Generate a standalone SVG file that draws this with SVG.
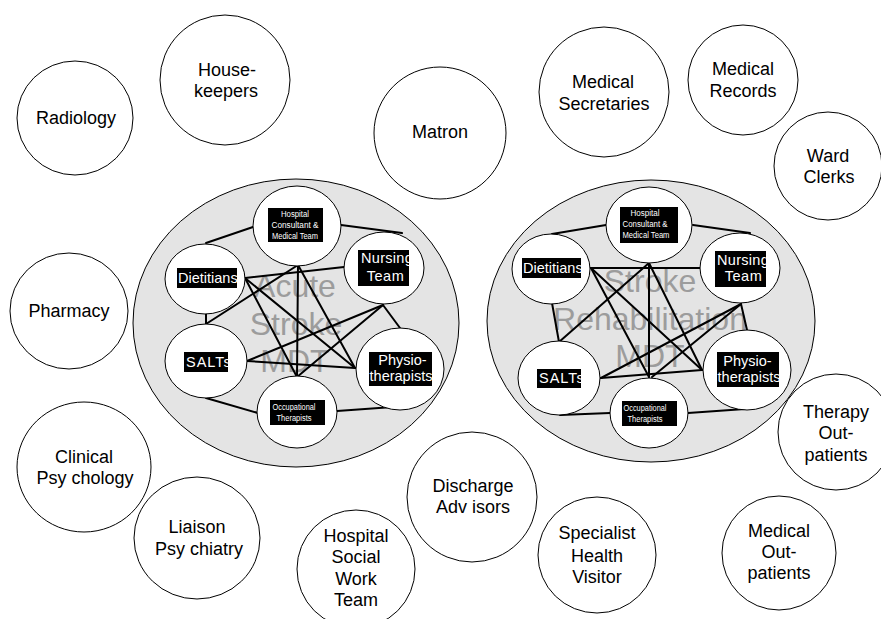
<svg xmlns="http://www.w3.org/2000/svg" width="881" height="619" viewBox="0 0 881 619">
  <style>
    .outer { fill: #ffffff; stroke: #000000; stroke-width: 1; }
    .mdt { fill: #e4e4e4; stroke: #000000; stroke-width: 1; }
    .member { fill: #ffffff; stroke: #000000; stroke-width: 1; }
    .link { stroke: #000000; stroke-width: 2; fill: none; stroke-linecap: round; }
    .lbl { font-family: "Liberation Sans", Arial, sans-serif; font-size: 18px; fill: #000000; text-anchor: middle; }
    .title { font-family: "Liberation Sans", Arial, sans-serif; font-size: 32px; fill: #9c9c9c; text-anchor: middle; }
    .tag { fill: #000000; }
    .mid { font-family: "Liberation Sans", Arial, sans-serif; font-size: 14.5px; fill: #ffffff; }
    .tiny { font-family: "Liberation Sans", Arial, sans-serif; font-size: 8.5px; fill: #ffffff; text-anchor: middle; }
  </style>

  <!-- Hospital services around the teams -->
  <g id="radiology"><ellipse class="outer" cx="75" cy="118" rx="58" ry="57"/><text class="lbl" x="76" y="124">Radiology</text></g>
  <g id="housekeepers"><circle class="outer" cx="225" cy="80" r="65"/><text class="lbl" x="227" y="76">House-</text><text class="lbl" x="226" y="97">keepers</text></g>
  <g id="matron"><circle class="outer" cx="440" cy="133" r="66"/><text class="lbl" x="440" y="138">Matron</text></g>
  <g id="medical-secretaries"><circle class="outer" cx="604" cy="92" r="65"/><text class="lbl" x="603" y="88">Medical</text><text class="lbl" x="604" y="110">Secretaries</text></g>
  <g id="medical-records"><circle class="outer" cx="743" cy="80" r="55"/><text class="lbl" x="743" y="75">Medical</text><text class="lbl" x="743" y="97">Records</text></g>
  <g id="ward-clerks"><circle class="outer" cx="828" cy="166" r="54"/><text class="lbl" x="828" y="162">Ward</text><text class="lbl" x="829" y="183">Clerks</text></g>
  <g id="pharmacy"><ellipse class="outer" cx="69" cy="311" rx="59" ry="58"/><text class="lbl" x="69" y="317">Pharmacy</text></g>
  <g id="clinical-psychology"><ellipse class="outer" cx="84" cy="467" rx="67" ry="65"/><text class="lbl" x="84" y="463">Clinical</text><text class="lbl" x="85" y="484">Psy chology</text></g>
  <g id="liaison-psychiatry"><ellipse class="outer" cx="197" cy="538" rx="63" ry="61"/><text class="lbl" x="197" y="533">Liaison</text><text class="lbl" x="199" y="555">Psy chiatry</text></g>
  <g id="social-work"><circle class="outer" cx="356" cy="569" r="59"/><text class="lbl" x="356" y="542">Hospital</text><text class="lbl" x="356" y="563">Social</text><text class="lbl" x="356" y="585">Work</text><text class="lbl" x="356" y="606">Team</text></g>
  <g id="discharge-advisors"><circle class="outer" cx="472" cy="497" r="65"/><text class="lbl" x="473" y="492">Discharge</text><text class="lbl" x="473" y="513">Adv isors</text></g>
  <g id="health-visitor"><ellipse class="outer" cx="597" cy="555" rx="59" ry="58"/><text class="lbl" x="597" y="539">Specialist</text><text class="lbl" x="597" y="562">Health</text><text class="lbl" x="597" y="583">Visitor</text></g>
  <g id="therapy-outpatients"><circle class="outer" cx="836" cy="432" r="58"/><text class="lbl" x="836" y="418">Therapy</text><text class="lbl" x="836" y="439">Out-</text><text class="lbl" x="836" y="461">patients</text></g>
  <g id="medical-outpatients"><circle class="outer" cx="779" cy="553" r="57"/><text class="lbl" x="779" y="537">Medical</text><text class="lbl" x="779" y="558">Out-</text><text class="lbl" x="779" y="579">patients</text></g>

  <!-- Team backgrounds -->
  <g id="acute-mdt">
    <ellipse class="mdt" cx="296" cy="323" rx="163" ry="144"/>
    <text class="title" x="295" y="297">Acute</text>
    <text class="title" x="296" y="335">Stroke</text>
    <text class="title" x="295" y="372">MDT</text>
  </g>
  <g id="rehab-mdt">
    <ellipse class="mdt" cx="651" cy="321" rx="164" ry="141"/>
    <text class="title" x="650" y="292">Stroke</text>
    <text class="title" x="650" y="330">Rehabilitation</text>
    <text class="title" x="650" y="367">MDT</text>
  </g>

  <!-- Every member of a team linked to every other -->
  <g id="connectors">
    <!-- acute team -->
    <line class="link" x1="206" y1="243" x2="253" y2="227"/>
    <line class="link" x1="341" y1="225" x2="402" y2="233"/>
    <line class="link" x1="383" y1="305" x2="400" y2="328"/>
    <line class="link" x1="337" y1="411" x2="393" y2="407"/>
    <line class="link" x1="258" y1="413" x2="206" y2="398"/>
    <line class="link" x1="206" y1="314" x2="206" y2="324"/>
    <line class="link" x1="245" y1="278" x2="344" y2="267"/>
    <line class="link" x1="245" y1="278" x2="297" y2="377"/>
    <line class="link" x1="245" y1="278" x2="355" y2="368"/>
    <line class="link" x1="298" y1="265" x2="297" y2="377"/>
    <line class="link" x1="298" y1="265" x2="355" y2="368"/>
    <line class="link" x1="298" y1="265" x2="206" y2="324"/>
    <line class="link" x1="383" y1="305" x2="247" y2="361"/>
    <line class="link" x1="383" y1="305" x2="297" y2="377"/>
    <line class="link" x1="247" y1="361" x2="355" y2="368"/>
    <!-- rehabilitation team -->
    <line class="link" x1="552" y1="234" x2="606" y2="225"/>
    <line class="link" x1="693" y1="225" x2="750" y2="233"/>
    <line class="link" x1="741" y1="304" x2="747" y2="330"/>
    <line class="link" x1="688" y1="413" x2="745" y2="409"/>
    <line class="link" x1="610" y1="413" x2="560" y2="415"/>
    <line class="link" x1="552" y1="303" x2="559" y2="342"/>
    <line class="link" x1="591" y1="268" x2="701" y2="268"/>
    <line class="link" x1="591" y1="268" x2="649" y2="377"/>
    <line class="link" x1="591" y1="268" x2="702" y2="370"/>
    <line class="link" x1="649" y1="263" x2="649" y2="377"/>
    <line class="link" x1="649" y1="263" x2="702" y2="370"/>
    <line class="link" x1="649" y1="263" x2="559" y2="342"/>
    <line class="link" x1="741" y1="304" x2="601" y2="378"/>
    <line class="link" x1="741" y1="304" x2="652" y2="377"/>
    <line class="link" x1="601" y1="378" x2="702" y2="370"/>
  </g>

  <!-- Acute team members -->
  <g id="acute-consultant">
    <ellipse class="member" cx="297" cy="226" rx="44" ry="40"/>
    <rect class="tag" x="268" y="208" width="55" height="34"/>
    <text class="tiny" x="295" y="217" textLength="28" lengthAdjust="spacingAndGlyphs">Hospital</text>
    <text class="tiny" x="295" y="228" textLength="47" lengthAdjust="spacingAndGlyphs">Consultant &amp;</text>
    <text class="tiny" x="295" y="239" textLength="46" lengthAdjust="spacingAndGlyphs">Medical Team</text>
  </g>
  <g id="acute-dietitians">
    <ellipse class="member" cx="205" cy="279" rx="40" ry="35"/>
    <rect class="tag" x="177" y="268" width="60" height="20"/>
    <text class="mid" x="178" y="283">Dietitians</text>
  </g>
  <g id="acute-nursing">
    <ellipse class="member" cx="384" cy="268" rx="40" ry="36"/>
    <rect class="tag" x="358" y="250" width="51" height="36"/>
    <text class="mid" x="361" y="263" letter-spacing="0.3">Nursing</text>
    <text class="mid" x="385.5" y="281" text-anchor="middle" letter-spacing="0.5">Team</text>
  </g>
  <g id="acute-salts">
    <ellipse class="member" cx="206" cy="361" rx="41" ry="37"/>
    <rect class="tag" x="184" y="352" width="44" height="20"/>
    <text class="mid" x="186" y="367" letter-spacing="1">SALTs</text>
  </g>
  <g id="acute-ot">
    <ellipse class="member" cx="297" cy="412" rx="40" ry="36"/>
    <rect class="tag" x="270" y="400" width="55" height="25"/>
    <text class="tiny" x="294" y="410" textLength="43" lengthAdjust="spacingAndGlyphs">Occupational</text>
    <text class="tiny" x="294" y="421" textLength="35" lengthAdjust="spacingAndGlyphs">Therapists</text>
  </g>
  <g id="acute-physio">
    <ellipse class="member" cx="400" cy="369" rx="44" ry="41"/>
    <rect class="tag" x="369" y="352" width="63" height="34"/>
    <text class="mid" x="402.5" y="365" text-anchor="middle">Physio-</text>
    <text class="mid" x="401" y="381" text-anchor="middle">therapists</text>
  </g>

  <!-- Rehabilitation team members -->
  <g id="rehab-consultant">
    <ellipse class="member" cx="649" cy="225" rx="43" ry="38"/>
    <rect class="tag" x="620" y="207" width="58" height="36"/>
    <text class="tiny" x="645" y="216" textLength="29" lengthAdjust="spacingAndGlyphs">Hospital</text>
    <text class="tiny" x="645" y="227" textLength="45" lengthAdjust="spacingAndGlyphs">Consultant &amp;</text>
    <text class="tiny" x="646" y="238" textLength="47" lengthAdjust="spacingAndGlyphs">Medical Team</text>
  </g>
  <g id="rehab-dietitians">
    <ellipse class="member" cx="551" cy="269" rx="39" ry="35"/>
    <rect class="tag" x="522" y="258" width="59" height="20"/>
    <text class="mid" x="523" y="273">Dietitians</text>
  </g>
  <g id="rehab-nursing">
    <ellipse class="member" cx="740" cy="268" rx="40" ry="35"/>
    <rect class="tag" x="715" y="251" width="51" height="36"/>
    <text class="mid" x="717" y="265" letter-spacing="0.3">Nursing</text>
    <text class="mid" x="743.5" y="281" text-anchor="middle" letter-spacing="0.5">Team</text>
  </g>
  <g id="rehab-salts">
    <ellipse class="member" cx="559" cy="378" rx="41" ry="37"/>
    <rect class="tag" x="537" y="369" width="44" height="19"/>
    <text class="mid" x="539" y="383" letter-spacing="1">SALTs</text>
  </g>
  <g id="rehab-ot">
    <ellipse class="member" cx="649" cy="413" rx="39" ry="35"/>
    <rect class="tag" x="622" y="401" width="55" height="25"/>
    <text class="tiny" x="645" y="411" textLength="43" lengthAdjust="spacingAndGlyphs">Occupational</text>
    <text class="tiny" x="645" y="422" textLength="35" lengthAdjust="spacingAndGlyphs">Therapists</text>
  </g>
  <g id="rehab-physio">
    <ellipse class="member" cx="747" cy="370" rx="44" ry="40"/>
    <rect class="tag" x="717" y="352" width="62" height="35"/>
    <text class="mid" x="747.5" y="366" text-anchor="middle">Physio-</text>
    <text class="mid" x="749" y="382" text-anchor="middle">therapists</text>
  </g>
</svg>
